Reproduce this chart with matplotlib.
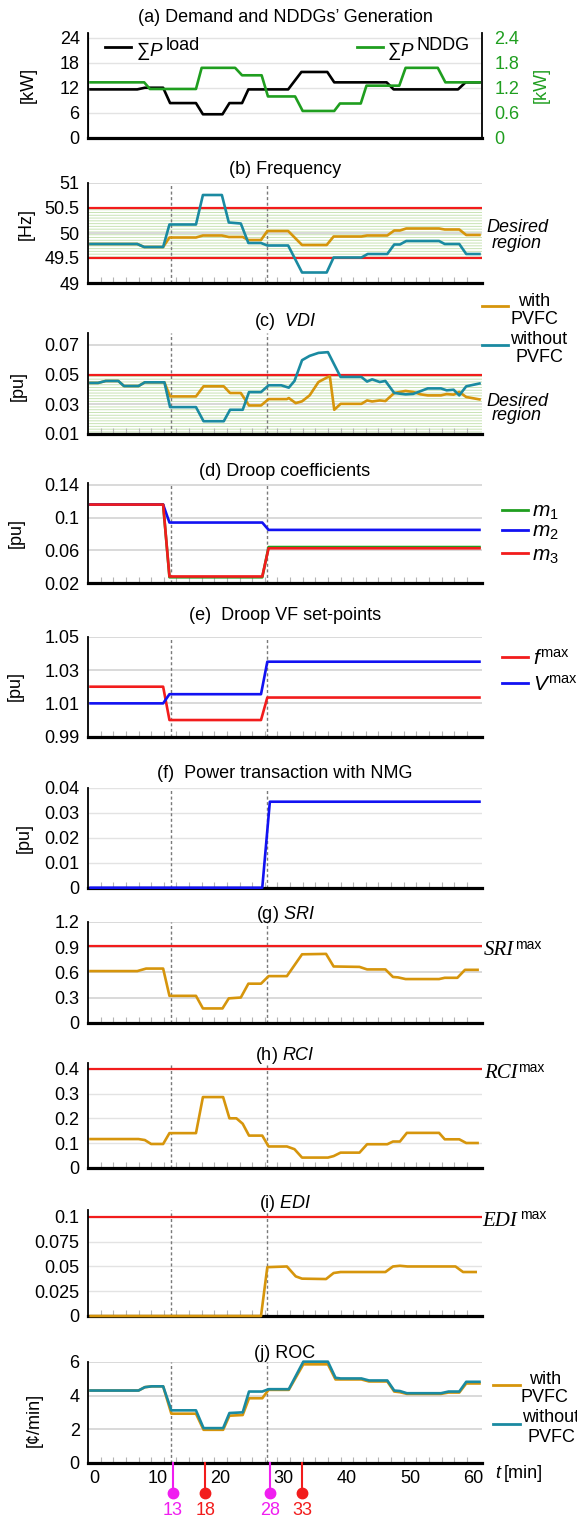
import matplotlib

matplotlib.use("Agg")
import matplotlib.pyplot as plt
from matplotlib.lines import Line2D
import numpy as np

# ---- values (time in minutes) ----
load_t = [-0.6, 6.8, 8.0, 10.9, 12.0, 16.1, 17.2, 20.3, 21.4, 23.4, 24.4, 30.7,
          32.8, 36.9, 38.0, 46.3, 47.4, 57.6, 58.8, 61.0]
load_kw = [11.6, 11.6, 12.0, 12.0, 8.3, 8.3, 5.6, 5.6, 8.3, 8.3, 11.6, 11.6,
           15.8, 15.8, 13.3, 13.3, 11.6, 11.6, 13.3, 13.3]
nddg_t = [-0.6, 7.9, 8.8, 16.1, 17.0, 22.3, 23.4, 26.5, 27.5, 31.8, 33.0, 38.0,
          38.9, 42.2, 43.1, 48.3, 49.3, 54.4, 55.6, 61.0]
nddg_kw = [1.33, 1.33, 1.17, 1.17, 1.68, 1.68, 1.50, 1.50, 0.99, 0.99, 0.64, 0.64,
           0.82, 0.82, 1.25, 1.25, 1.68, 1.68, 1.33, 1.33]

freq_wo_t = [-0.6, 6.8, 7.9, 10.9, 11.9, 16.1, 17.2, 20.2, 21.3, 23.2, 24.4, 26.4,
             27.4, 30.7, 32.9, 36.8, 37.9, 42.3, 43.3, 46.4, 47.5, 48.4, 49.4, 54.6,
             55.5, 57.8, 58.9, 61.0]
freq_wo = [49.78, 49.78, 49.72, 49.72, 50.17, 50.17, 50.76, 50.76, 50.21, 50.19,
           49.80, 49.80, 49.75, 49.75, 49.21, 49.21, 49.51, 49.51, 49.58, 49.58,
           49.77, 49.77, 49.84, 49.84, 49.78, 49.78, 49.58, 49.58]
freq_w_t = [-0.6, 6.8, 7.9, 10.9, 11.9, 16.1, 17.2, 20.2, 21.3, 23.5, 24.4, 26.4,
            27.4, 30.7, 32.9, 36.8, 37.9, 42.3, 43.2, 46.4, 47.5, 48.4, 49.4, 54.6,
            55.5, 57.8, 58.9, 61.0]
freq_w = [49.78, 49.78, 49.72, 49.72, 49.91, 49.91, 49.95, 49.95, 49.92, 49.92,
          49.86, 49.86, 50.04, 50.04, 49.76, 49.76, 49.93, 49.93, 49.95, 49.95,
          50.05, 50.05, 50.09, 50.09, 50.07, 50.07, 49.96, 49.96]

vdi_wo_t = [-0.6, 0.6, 1.8, 3.8, 4.7, 7.0, 8.0, 11.1, 12.0, 16.1, 17.3, 20.5, 21.5,
            23.5, 24.5, 26.4, 27.6, 29.6, 30.8, 31.7, 32.9, 34.1, 35.5, 37.0, 39.0,
            42.3, 43.2, 44.0, 45.2, 46.1, 47.5, 49.3, 50.5, 51.7, 52.8, 54.9, 55.8,
            56.9, 57.8, 58.9, 61.0]
vdi_wo = [0.0444, 0.0444, 0.0457, 0.0457, 0.0423, 0.0423, 0.0448, 0.0448, 0.0281,
          0.0281, 0.0186, 0.0186, 0.0263, 0.0263, 0.0382, 0.0382, 0.0428, 0.0428,
          0.0412, 0.0457, 0.0597, 0.0626, 0.0646, 0.0651, 0.0484, 0.0484, 0.0453,
          0.0468, 0.0450, 0.0457, 0.0376, 0.0367, 0.0370, 0.0389, 0.0407, 0.0407,
          0.0394, 0.0398, 0.0360, 0.0421, 0.0440]
vdi_w_t = [-0.6, 0.6, 1.8, 3.8, 4.7, 7.0, 8.0, 11.1, 12.0, 16.1, 17.3, 20.5, 21.5,
           23.2, 24.5, 26.4, 27.6, 30.5, 30.8, 31.9, 32.9, 34.1, 35.5, 37.0, 37.3,
           38.0, 39.0, 42.3, 43.2, 44.0, 45.2, 46.1, 47.5, 49.3, 50.5, 51.7, 52.8,
           54.9, 55.8, 56.9, 57.8, 58.9, 61.0]
vdi_w = [0.0444, 0.0444, 0.0457, 0.0457, 0.0423, 0.0423, 0.0448, 0.0448, 0.0353,
         0.0353, 0.0421, 0.0421, 0.0376, 0.0376, 0.0292, 0.0292, 0.0335, 0.0335,
         0.0342, 0.0308, 0.0320, 0.0360, 0.0450, 0.0484, 0.0489, 0.0263, 0.0303,
         0.0303, 0.0326, 0.0319, 0.0326, 0.0322, 0.0376, 0.0390, 0.0383, 0.0367,
         0.0360, 0.0360, 0.0369, 0.0365, 0.0383, 0.0349, 0.0333]

droop_t = [-0.6, 10.9, 11.9, 26.6, 27.6, 61.0]
m1 = [0.116, 0.116, 0.027, 0.027, 0.064, 0.064]
m2 = [0.116, 0.116, 0.094, 0.094, 0.085, 0.085]
m3 = [0.116, 0.116, 0.028, 0.028, 0.0625, 0.0625]

setp_t = [-0.6, 10.9, 11.9, 26.4, 27.4, 61.0]
f_max = [1.02, 1.02, 1.0, 1.0, 1.0135, 1.0135]
v_max = [1.01, 1.01, 1.0155, 1.0155, 1.035, 1.035]

nmg_t = [-0.6, 26.6, 27.8, 61.0]
nmg_pu = [0.0, 0.0, 0.0345, 0.0345]

sri_t = [-0.6, 6.8, 8.2, 10.9, 11.9, 16.1, 17.2, 20.3, 21.3, 23.2, 24.4, 26.4, 27.6,
         30.5, 32.9, 36.7, 37.9, 42.0, 43.2, 46.1, 47.3, 48.1, 49.3, 54.6, 55.5,
         57.5, 58.7, 60.7]
sri = [0.615, 0.615, 0.645, 0.645, 0.32, 0.32, 0.17, 0.17, 0.29, 0.30, 0.465, 0.465,
       0.555, 0.555, 0.815, 0.82, 0.67, 0.665, 0.635, 0.635, 0.545, 0.54, 0.52, 0.52,
       0.535, 0.535, 0.63, 0.63]
sri_max = 0.91

rci_t = [-0.6, 7.0, 8.0, 9.0, 10.9, 11.9, 16.1, 17.2, 20.4, 21.4, 22.5, 23.5, 24.5,
         26.6, 27.6, 30.5, 31.7, 32.9, 37.0, 37.9, 39.0, 42.0, 43.2, 46.4, 47.3, 48.4,
         49.5, 54.6, 55.5, 57.8, 58.9, 60.7]
rci = [0.116, 0.116, 0.112, 0.096, 0.096, 0.14, 0.14, 0.286, 0.286, 0.2, 0.2, 0.178,
       0.13, 0.13, 0.086, 0.086, 0.075, 0.041, 0.041, 0.047, 0.061, 0.061, 0.095,
       0.095, 0.106, 0.106, 0.141, 0.141, 0.115, 0.115, 0.1, 0.1]
rci_max = 0.4

edi_t = [-0.6, 26.4, 27.4, 30.5, 31.9, 32.9, 36.7, 37.9, 39.0, 46.1, 47.3, 48.4,
         49.6, 57.2, 58.4, 60.4]
edi = [0.0, 0.0, 0.0493, 0.050, 0.040, 0.0377, 0.0373, 0.0434, 0.0444, 0.0444,
       0.050, 0.0507, 0.050, 0.050, 0.0444, 0.0444]
edi_max = 0.1

roc_t = [-0.6, 7.0, 8.0, 9.1, 10.9, 12.2, 16.1, 17.3, 20.4, 21.4, 23.5, 24.5, 26.6,
         27.6, 30.8, 33.1, 37.0, 38.2, 39.0, 42.3, 43.5, 46.4, 47.5, 48.4, 49.5,
         54.9, 56.1, 57.8, 58.9, 61.0]
roc_wo = [4.3, 4.3, 4.5, 4.55, 4.55, 3.12, 3.12, 2.06, 2.06, 2.96, 3.0, 4.24, 4.24,
          4.38, 4.38, 6.02, 6.02, 5.06, 5.02, 5.02, 4.9, 4.9, 4.3, 4.27, 4.14, 4.14,
          4.24, 4.24, 4.82, 4.82]
roc_w = [4.3, 4.3, 4.5, 4.55, 4.55, 2.92, 2.92, 1.96, 1.96, 2.8, 2.84, 3.84, 3.84,
         4.34, 4.34, 5.86, 5.86, 4.96, 4.96, 4.96, 4.84, 4.84, 4.24, 4.2, 4.1, 4.1,
         4.18, 4.18, 4.72, 4.72]

dash_t = [12.2, 27.4]
event_t = [12.4, 17.6, 27.8, 32.9]
event_lbl = ["13", "18", "28", "33"]
event_kind = ["m", "r", "m", "r"]

# ---- style ----
ORANGE = "#d6950c"
TEAL = "#1a8aa1"
GREEN = "#1f9e1f"
BLUE = "#1212f2"
RED = "#f21c1c"
MAGENTA = "#f01ef0"
GRID = "#d9d9d9"
HATCH = "#c9e3b5"
DASH = "#7a7a7a"
FS = 13

plt.rcParams["font.family"] = ["Liberation Sans", "DejaVu Sans"]
plt.rcParams["mathtext.fontset"] = "custom"
plt.rcParams["mathtext.rm"] = "Liberation Sans"
plt.rcParams["mathtext.it"] = "Liberation Sans:italic"
plt.rcParams["hatch.linewidth"] = 0.7

W, H = 577, 1519
LEFT, RIGHT = 88, 482
XLIM = (-1.0, 61.4)
LW = 1.9

fig = plt.figure(figsize=(W / 100, H / 100), dpi=100)


def fx(px):
    return px / W


def fy(py):
    return 1 - py / H


def add_axes(top, bottom):
    return fig.add_axes([fx(LEFT), fy(bottom), (RIGHT - LEFT) / W, (bottom - top) / H])


def style(ax, ylim, yticks, ylabels, minor=True):
    ax.set_xlim(*XLIM)
    ax.set_ylim(*ylim)
    ax.set_yticks(yticks, ylabels)
    ax.set_xticks([])
    for side in ("top", "right"):
        ax.spines[side].set_visible(False)
    ax.spines["left"].set_linewidth(1.3)
    ax.spines["bottom"].set_linewidth(2.3)
    ax.tick_params(axis="y", length=0, pad=6, labelsize=FS)
    ax.grid(axis="y", color=GRID, lw=1.4)
    ax.set_axisbelow(True)
    if minor:
        ax.set_xticks(np.arange(1, 61, 2), minor=True)
        ax.tick_params(axis="x", which="minor", direction="in", length=4,
                       width=0.8, color="#b5b5b5")


def line(ax, t, v, color):
    ax.plot(t, v, color=color, lw=LW, zorder=3, clip_on=False)


def dashes(ax):
    for d in dash_t:
        ax.axvline(d, color=DASH, ls=(0, (2.2, 1.8)), lw=1.0, zorder=1.5)


def title(y, s):
    fig.text(fx((LEFT + RIGHT) / 2), fy(y), s, ha="center", va="center", fontsize=FS)


def ylab(x, y, s, color="black"):
    fig.text(fx(x), fy(y), s, ha="center", va="center", rotation=90,
             fontsize=FS, color=color)


def key(x0, x1, y, color):
    fig.add_artist(Line2D([fx(x0), fx(x1)], [fy(y), fy(y)], color=color, lw=2.0,
                          transform=fig.transFigure))


def txt(x, y, s, ha="left", **kw):
    kw.setdefault("fontsize", FS)
    return fig.text(fx(x), fy(y), s, ha=ha, va="center", **kw)


def sup(ax, base, s, size, gap=1.0, rise=0.55):
    # superscript placed just after the right edge of an existing text
    ax.annotate(s, xy=(1, rise), xycoords=base, xytext=(gap, 0),
                textcoords="offset points", ha="left", va="bottom",
                fontsize=size, annotation_clip=False)


# (a) demand and NDDG generation
ax = add_axes(33, 137.5)
style(ax, (0, 25.2), [0, 6, 12, 18, 24], ["0", "6", "12", "18", "24"], minor=False)
ax.grid(axis="y", color="#e3e3e3", lw=1.0)
line(ax, load_t, load_kw, "black")
axr = ax.twinx()
axr.set_ylim(0, 2.52)
axr.set_yticks([0, 0.6, 1.2, 1.8, 2.4], ["0", "0.6", "1.2", "1.8", "2.4"])
axr.tick_params(axis="y", length=0, pad=9, labelsize=FS, labelcolor=GREEN)
axr.spines["right"].set_linewidth(1.3)
axr.spines["top"].set_visible(False)
line(axr, nddg_t, nddg_kw, GREEN)
title(18, "(a) Demand and NDDGs\u2019 Generation")
ylab(28, 85, "[kW]")
ylab(541, 85, "[kW]", color=GREEN)
key(105, 131, 46.7, "black")
b = txt(136, 51, "\u2211$P$", fontsize=13.5)
sup(ax, b, "load", 13, gap=1.5, rise=0.35)
key(357, 383, 46.7, GREEN)
b = txt(387, 51, "\u2211$P$", fontsize=13.5)
sup(ax, b, "NDDG", 13, gap=1.5, rise=0.35)

# (b) frequency
ax = add_axes(183, 283)
style(ax, (49, 51), [49, 49.5, 50, 50.5, 51], ["49", "49.5", "50", "50.5", "51"])
ax.axhspan(49.5, 50.5, facecolor="white", edgecolor=HATCH, hatch="------", lw=0, zorder=0.3)
ax.axhline(50, color=GRID, lw=1.4, zorder=0.6)
ax.axhline(50.5, color=RED, lw=1.6, zorder=2)
ax.axhline(49.5, color=RED, lw=1.6, zorder=2)
dashes(ax)
line(ax, freq_w_t, freq_w, ORANGE)
line(ax, freq_wo_t, freq_wo, TEAL)
title(170, "(b) Frequency")
ylab(26, 224, "[Hz]")
txt(517, 228, "Desired", ha="center", style="italic")
txt(517, 243, "region", ha="center", style="italic")

# legend between (b) and (c)
key(482, 508, 306, ORANGE)
txt(534, 302, "with", ha="center")
txt(534, 320, "PVFC", ha="center")
key(482, 508, 345, TEAL)
txt(539, 339, "without", ha="center")
txt(539, 358, "PVFC", ha="center")

# (c) VDI
ax = add_axes(333, 434)
style(ax, (0.01, 0.078), [0.01, 0.03, 0.05, 0.07], ["0.01", "0.03", "0.05", "0.07"])
ax.axhspan(0.01, 0.05, facecolor="white", edgecolor=HATCH, hatch="------", lw=0, zorder=0.3)
ax.axhline(0.03, color=GRID, lw=1.4, zorder=0.6)
ax.axhline(0.05, color=RED, lw=1.6, zorder=2)
dashes(ax)
line(ax, vdi_w_t, vdi_w, ORANGE)
line(ax, vdi_wo_t, vdi_wo, TEAL)
title(322, "(c)  $\\mathit{VDI}$")
ylab(18, 386, "[pu]")
txt(517, 401, "Desired", ha="center", style="italic")
txt(517, 415, "region", ha="center", style="italic")

# (d) droop coefficients
ax = add_axes(483, 583)
style(ax, (0.02, 0.1424), [0.02, 0.06, 0.1, 0.14], ["0.02", "0.06", "0.1", "0.14"])
dashes(ax)
line(ax, droop_t, m1, GREEN)
line(ax, droop_t, m2, BLUE)
line(ax, droop_t, m3, RED)
title(472, "(d) Droop coefficients")
ylab(16, 533, "[pu]")
for y, c, s in [(510, GREEN, "$m_1$"), (530, BLUE, "$m_2$"), (553, RED, "$m_3$")]:
    key(502, 528, y, c)
    txt(532, y + 3, s, fontsize=15)

# (e) droop VF set-points
ax = add_axes(636.7, 736.7)
style(ax, (0.99, 1.05), [0.99, 1.01, 1.03, 1.05], ["0.99", "1.01", "1.03", "1.05"])
dashes(ax)
line(ax, setp_t, f_max, RED)
line(ax, setp_t, v_max, BLUE)
title(615, "(e)  Droop VF set-points")
ylab(15, 686, "[pu]")
key(502, 528, 657, RED)
txt(533, 659, "$f^{\\mathrm{max}}$", fontsize=15)
key(502, 528, 683, BLUE)
txt(533, 685, "$V^{\\mathrm{max}}$", fontsize=15)

# (f) power transaction with NMG
ax = add_axes(788, 887.7)
style(ax, (0, 0.04), [0, 0.01, 0.02, 0.03, 0.04], ["0", "0.01", "0.02", "0.03", "0.04"])
ax.grid(axis="y", color="#e3e3e3", lw=1.0)
dashes(ax)
line(ax, nmg_t, nmg_pu, BLUE)
title(773, "(f)  Power transaction with NMG")
ylab(24, 838, "[pu]")

# (g) SRI
ax = add_axes(922, 1022.7)
style(ax, (0, 1.2), [0, 0.3, 0.6, 0.9, 1.2], ["0", "0.3", "0.6", "0.9", "1.2"])
ax.axhline(sri_max, color=RED, lw=1.6, zorder=2)
dashes(ax)
line(ax, sri_t, sri, ORANGE)
title(915, "(g) $\\mathit{SRI}$")
b = txt(484, 951, "SRI", family="Liberation Serif", style="italic", fontsize=15)
sup(ax, b, "max", 10, gap=0.5, rise=0.45)

# (h) RCI
ax = add_axes(1063, 1167.7)
style(ax, (0, 0.424), [0, 0.1, 0.2, 0.3, 0.4], ["0", "0.1", "0.2", "0.3", "0.4"])
ax.grid(axis="y", color="#e3e3e3", lw=1.0)
ax.axhline(rci_max, color=RED, lw=1.6, zorder=2)
dashes(ax)
line(ax, rci_t, rci, ORANGE)
title(1055, "(h) $\\mathit{RCI}$")
b = txt(484, 1074, "RCI", family="Liberation Serif", style="italic", fontsize=15)
sup(ax, b, "max", 10, gap=0.5, rise=0.45)

# (i) EDI
ax = add_axes(1210, 1316)
style(ax, (0, 0.107), [0, 0.025, 0.05, 0.075, 0.1], ["0", "0.025", "0.05", "0.075", "0.1"])
ax.grid(axis="y", color="#e3e3e3", lw=1.0)
ax.axhline(edi_max, color=RED, lw=1.6, zorder=2)
dashes(ax)
line(ax, edi_t, edi, ORANGE)
title(1203, "(i) $\\mathit{EDI}$")
b = txt(482, 1221, "EDI", family="Liberation Serif", style="italic", fontsize=15)
sup(ax, b, "max", 10, gap=2.0, rise=0.45)

# (j) ROC
ax = add_axes(1362, 1462.7)
style(ax, (0, 6), [0, 2, 4, 6], ["0", "2", "4", "6"])
dashes(ax)
line(ax, roc_t, roc_w, ORANGE)
line(ax, roc_t, roc_wo, TEAL)
ax.set_xticks(range(0, 61, 10))
ax.tick_params(axis="x", which="major", length=0, pad=5, labelsize=FS)
title(1353, "(j) ROC")
ylab(34, 1420, "[\u00a2/min]")
txt(495, 1474, "$t$", fontsize=FS)
txt(504, 1474, "[min]", fontsize=FS)
key(493, 520, 1385, ORANGE)
txt(545, 1380, "with", ha="center")
txt(544, 1398, "PVFC", ha="center")
key(493, 520, 1424, TEAL)
txt(522, 1418, "without")
txt(551, 1437, "PVFC", ha="center")

# event markers under the time axis
trans = ax.get_xaxis_transform()
for t, lbl, kind in zip(event_t, event_lbl, event_kind):
    c = MAGENTA if kind == "m" else RED
    ax.plot([t, t], [0, -0.30], color=c, lw=1.5, transform=trans, clip_on=False, zorder=4)
    ax.plot([t], [-0.30], "o", color=c, ms=7.5, transform=trans, clip_on=False, zorder=4)
    ax.text(t, -0.47, lbl, color=c, ha="center", va="center", fontsize=FS,
            transform=trans)

fig.savefig("out.png", dpi=100)
